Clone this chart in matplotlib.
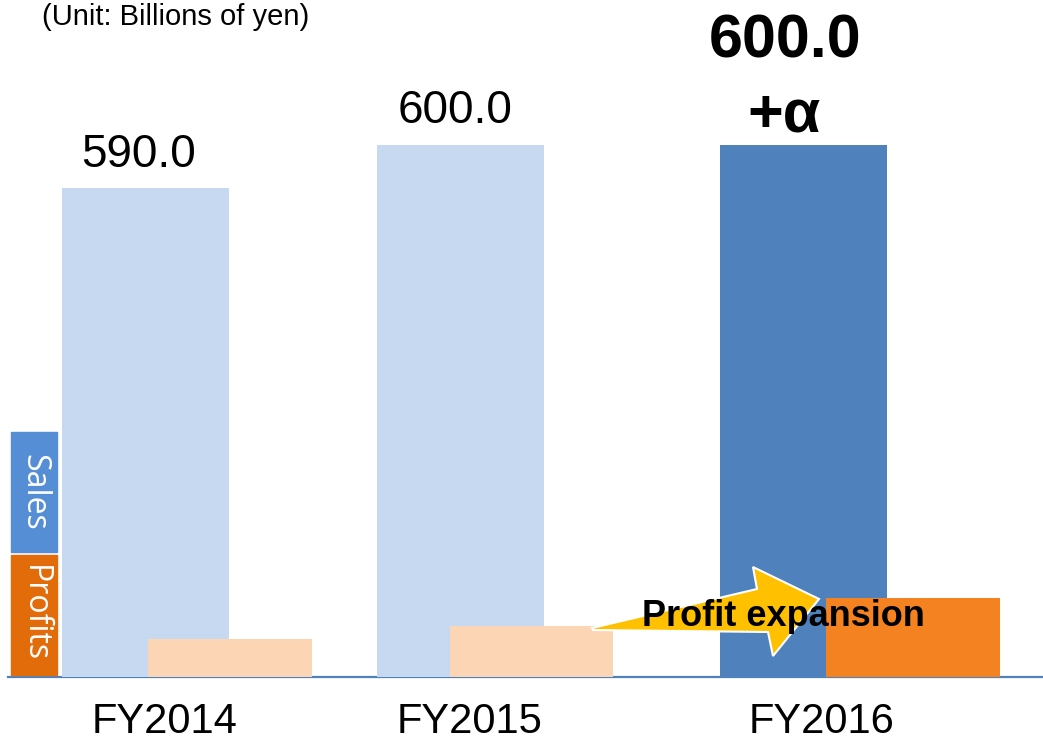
import matplotlib
matplotlib.use("Agg")
import matplotlib.pyplot as plt
from matplotlib.patches import Rectangle, Polygon

# ---- data ----
categories = ["FY2014", "FY2015", "FY2016"]
sales = [590.0, 600.0, 600.0]
sales_labels = ["590.0", "600.0", "600.0\n+α"]
profits = [38, 51, 79]          # relative (no values shown in the source)
unit_text = "(Unit: Billions of yen)"
arrow_text = "Profit expansion"

# ---- layout (pixel positions) ----
W, H = 1043, 743
sales_x = [145.5, 460.5, 803.5]
sales_w = [167, 167, 167]
profit_x = [230, 531.5, 913]
profit_w = [164, 163, 174]
tick_x = [165, 470, 822]
sales_colors = ["#C6D9F1", "#C6D9F1", "#4F81BD"]
profit_colors = ["#FCD5B5", "#FCD5B5", "#F58220"]

plt.rcParams['font.family'] = ['Liberation Sans', 'DejaVu Sans']

fig = plt.figure(figsize=(W / 100, H / 100), dpi=100)
fx = lambda x: x / W
fy = lambda y: 1 - y / H

base_px = 677
ax = fig.add_axes([fx(8), fy(base_px), fx(1043) - fx(8), fy(0) - fy(base_px)])
ax.set_xlim(8, 1043)
ymin = 476.3
ax.set_ylim(ymin, ymin + base_px / 4.3)
ax.bar(sales_x, [s - ymin for s in sales], bottom=ymin, width=sales_w,
       color=sales_colors, zorder=2)
for sp in ["top", "right", "left"]:
    ax.spines[sp].set_visible(False)
ax.spines["bottom"].set_color("#4F81BD")
ax.spines["bottom"].set_linewidth(1.6)
ax.spines["bottom"].set_zorder(1)
ax.set_yticks([])
ax.set_xticks(tick_x)
ax.set_xticklabels(categories, fontsize=30)
ax.tick_params(axis="x", length=0, pad=18)

ax2 = ax.twinx()
ax2.set_ylim(0, base_px)
ax2.bar(profit_x, profits, width=profit_w, color=profit_colors, zorder=3)
ax2.set_yticks([])
for sp in ax2.spines.values():
    sp.set_visible(False)

# value labels
ax.annotate(sales_labels[0], (sales_x[0], sales[0]), xytext=(-6.5 * 0.72, 33 * 0.72),
            textcoords="offset points", ha="center", va="center", fontsize=33)
ax.annotate(sales_labels[1], (sales_x[1], sales[1]), xytext=(-5.5 * 0.72, 34 * 0.72),
            textcoords="offset points", ha="center", va="center", fontsize=33)
top_lbl, sub_lbl = sales_labels[2].split("\n")
ax.annotate(top_lbl, (sales_x[2], sales[2]), xytext=(-18.5 * 0.72, 103 * 0.72),
            textcoords="offset points", ha="center", va="center", fontsize=44,
            fontweight="bold")
ax.annotate(sub_lbl, (sales_x[2], sales[2]), xytext=(-20 * 0.72, 29 * 0.72),
            textcoords="offset points", ha="center", va="center", fontsize=44,
            fontweight="bold")

# unit text
fig.text(fx(42), fy(25), unit_text, fontsize=21, ha="left", va="baseline")

# left legend boxes
fig.add_artist(Rectangle((fx(11), fy(552)), fx(57) - fx(11), fy(432) - fy(552),
                         transform=fig.transFigure, color="#558ED5", zorder=5))
fig.add_artist(Rectangle((fx(11), fy(675)), fx(57) - fx(11), fy(555) - fy(675),
                         transform=fig.transFigure, color="#E36C0A", zorder=5))
fig.text(fx(34), fy(492), "Sales", rotation=-90, color="white", fontsize=23,
         ha="center", va="center", family=["Open Sans", "DejaVu Sans"], zorder=6)
fig.text(fx(34), fy(614), "Profits", rotation=-90, color="white", fontsize=23,
         ha="center", va="center", family=["Open Sans", "DejaVu Sans"], zorder=6)

# arrow
pts = [(592, 628), (757, 589), (753, 567), (819, 599), (773, 656), (768, 632), (593, 630)]
fig.add_artist(Polygon([(fx(x), fy(y)) for x, y in pts], closed=True,
                       transform=fig.transFigure, facecolor="#FFC000",
                       edgecolor="white", linewidth=1.5, zorder=4))
fig.text(fx(783), fy(616), arrow_text, fontsize=26, fontweight="bold",
         ha="center", va="center", zorder=7)

fig.savefig("out.png", dpi=100)
